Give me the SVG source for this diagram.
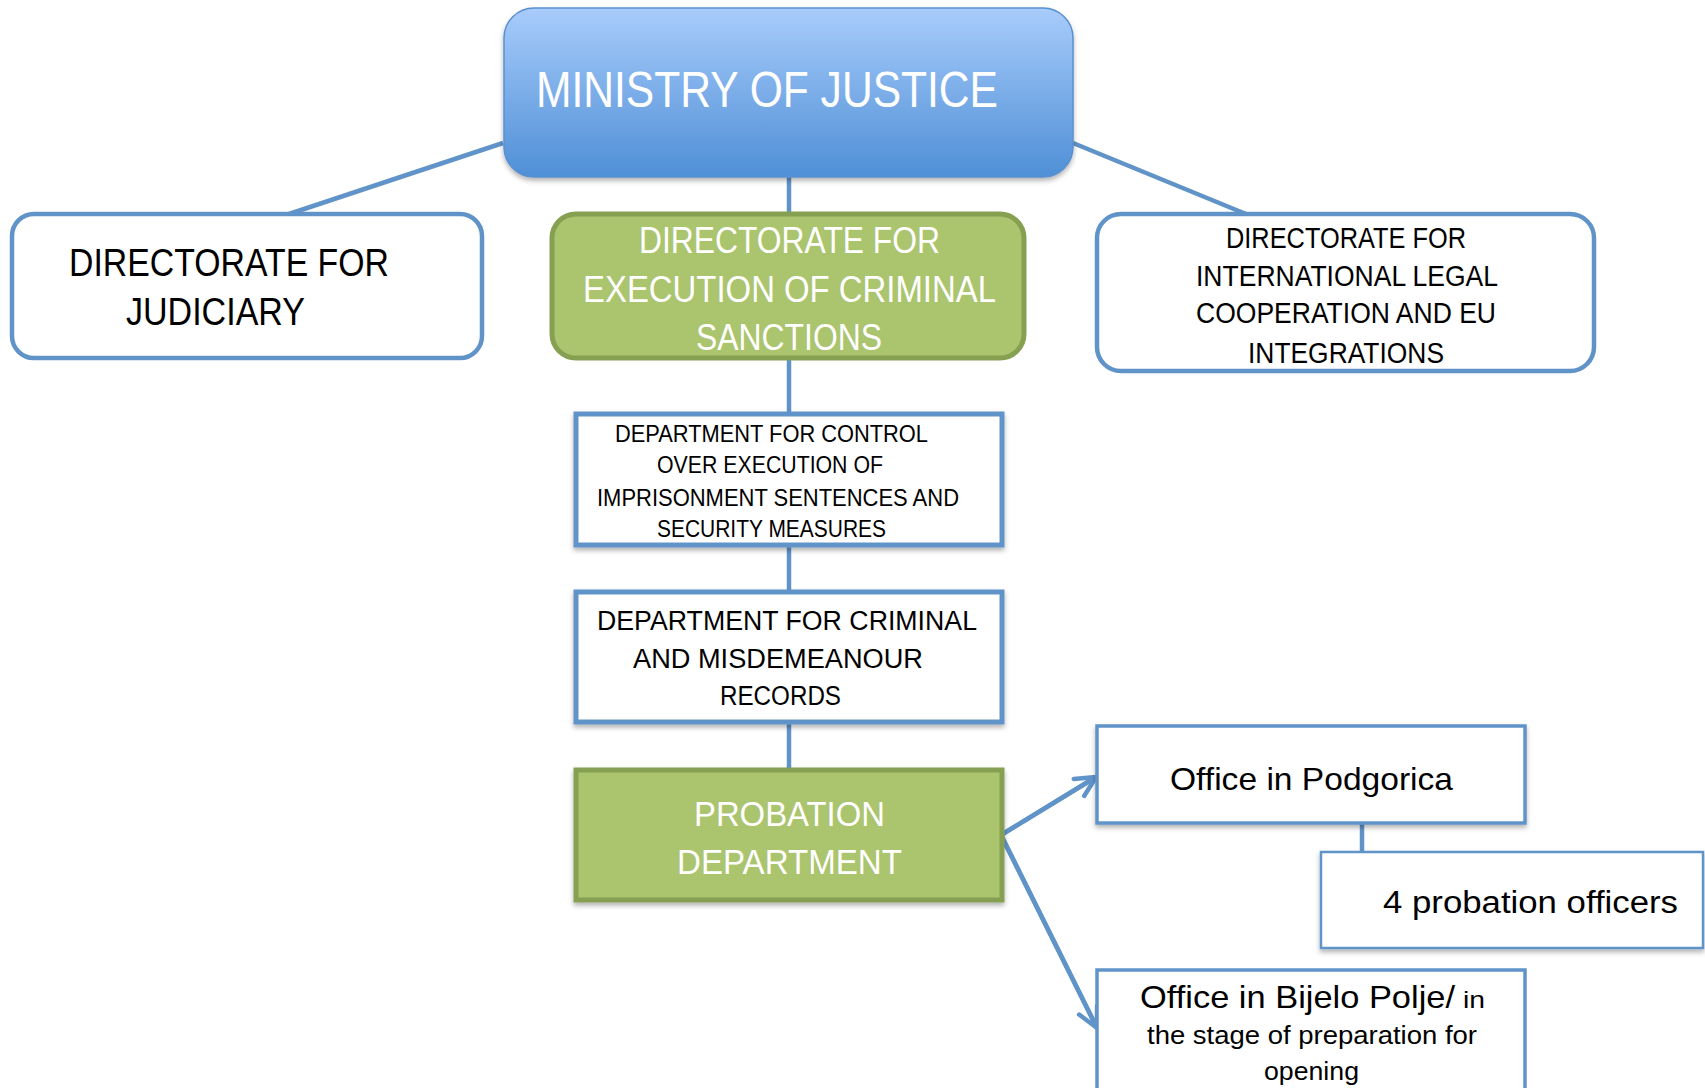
<svg xmlns="http://www.w3.org/2000/svg" width="1705" height="1088" viewBox="0 0 1705 1088">
<style>
text{font-family:"Liberation Sans",Arial,sans-serif;}
.dk{fill:#000;}
.wt{fill:#fff;}
.box{fill:#fff;stroke:#6094c9;}
.grn{fill:#abc46e;stroke:#86a052;stroke-width:5;}
.con{stroke:#6094c9;stroke-width:4.5;fill:none;}
</style>
<defs>
<linearGradient id="gMin" x1="0" y1="0" x2="0" y2="1">
<stop offset="0" stop-color="#a8ccfb"/>
<stop offset="1" stop-color="#4f8fd6"/>
</linearGradient>
<filter id="sh" x="-5%" y="-10%" width="110%" height="125%">
<feDropShadow dx="0" dy="3" stdDeviation="2.5" flood-color="#000" flood-opacity="0.3"/>
</filter>
<marker id="arr" markerUnits="userSpaceOnUse" viewBox="-26 -15 30 30" markerWidth="30" markerHeight="30" refX="0" refY="0" orient="auto">
<path d="M-20,-10 L0,0 L-20,10" fill="none" stroke="#6094c9" stroke-width="4.5" stroke-linecap="round" stroke-linejoin="round"/>
</marker>
</defs>
<g id="connectors">
<line class="con" x1="503" y1="143" x2="289" y2="214"/>
<line class="con" x1="1073" y1="143" x2="1246" y2="214"/>
<line class="con" x1="789" y1="177" x2="789" y2="214"/>
<line class="con" x1="789" y1="358" x2="789" y2="413"/>
<line class="con" x1="789" y1="545" x2="789" y2="592"/>
<line class="con" x1="789" y1="723" x2="789" y2="770"/>
<line class="con" x1="1362" y1="823" x2="1362" y2="852"/>
<polyline class="con" points="1096,777 1001,835 1097,1028" stroke-linejoin="miter" fill="none"/>
<line class="con" x1="1001" y1="835" x2="1096" y2="777" marker-end="url(#arr)"/>
<line class="con" x1="1001" y1="835" x2="1097" y2="1028" marker-end="url(#arr)"/>
</g>
<g id="ministry">
<rect x="504" y="8" width="569" height="169" rx="30" fill="url(#gMin)" stroke="#5a90cf" stroke-width="1.5" filter="url(#sh)"/>
<text class="wt" x="536" y="107" font-size="50" textLength="462" lengthAdjust="spacingAndGlyphs">MINISTRY OF JUSTICE</text>
</g>
<g id="dir-judiciary">
<rect class="box" x="12" y="214" width="470" height="144" rx="22" stroke-width="4.5"/>
<text class="dk" x="69" y="276" font-size="38" textLength="320" lengthAdjust="spacingAndGlyphs">DIRECTORATE FOR</text>
<text class="dk" x="126" y="325" font-size="38" textLength="179" lengthAdjust="spacingAndGlyphs">JUDICIARY</text>
</g>
<g id="dir-execution">
<rect class="grn" x="552" y="214" width="472" height="144" rx="24"/>
<text class="wt" x="639" y="253" font-size="36" textLength="301" lengthAdjust="spacingAndGlyphs">DIRECTORATE FOR</text>
<text class="wt" x="583" y="302" font-size="36" textLength="413" lengthAdjust="spacingAndGlyphs">EXECUTION OF CRIMINAL</text>
<text class="wt" x="696" y="350" font-size="36" textLength="186" lengthAdjust="spacingAndGlyphs">SANCTIONS</text>
</g>
<g id="dir-international">
<rect class="box" x="1097" y="214" width="497" height="157" rx="24" stroke-width="4.5"/>
<text class="dk" x="1226" y="248" font-size="29" textLength="240" lengthAdjust="spacingAndGlyphs">DIRECTORATE FOR</text>
<text class="dk" x="1196" y="286" font-size="29" textLength="302" lengthAdjust="spacingAndGlyphs">INTERNATIONAL LEGAL</text>
<text class="dk" x="1196" y="323" font-size="29" textLength="300" lengthAdjust="spacingAndGlyphs">COOPERATION AND EU</text>
<text class="dk" x="1248" y="363" font-size="29" textLength="196" lengthAdjust="spacingAndGlyphs">INTEGRATIONS</text>
</g>
<g id="dept-control">
<rect class="box" x="576" y="414" width="426" height="131" stroke-width="5" filter="url(#sh)"/>
<text class="dk" x="615" y="442" font-size="23" textLength="313" lengthAdjust="spacingAndGlyphs">DEPARTMENT FOR CONTROL</text>
<text class="dk" x="657" y="473" font-size="23" textLength="226" lengthAdjust="spacingAndGlyphs">OVER EXECUTION OF</text>
<text class="dk" x="597" y="506" font-size="23" textLength="362" lengthAdjust="spacingAndGlyphs">IMPRISONMENT SENTENCES AND</text>
<text class="dk" x="657" y="537" font-size="23" textLength="229" lengthAdjust="spacingAndGlyphs">SECURITY MEASURES</text>
</g>
<g id="dept-records">
<rect class="box" x="576" y="592" width="426" height="130" stroke-width="5" filter="url(#sh)"/>
<text class="dk" x="597" y="630" font-size="27" textLength="380" lengthAdjust="spacingAndGlyphs">DEPARTMENT FOR CRIMINAL</text>
<text class="dk" x="633" y="668" font-size="27" textLength="290" lengthAdjust="spacingAndGlyphs">AND MISDEMEANOUR</text>
<text class="dk" x="720" y="705" font-size="27" textLength="121" lengthAdjust="spacingAndGlyphs">RECORDS</text>
</g>
<g id="probation">
<rect class="grn" x="576" y="770" width="426" height="130" filter="url(#sh)"/>
<text class="wt" x="694" y="826" font-size="35" textLength="191" lengthAdjust="spacingAndGlyphs">PROBATION</text>
<text class="wt" x="677" y="874" font-size="35" textLength="225" lengthAdjust="spacingAndGlyphs">DEPARTMENT</text>
</g>
<g id="office-podgorica">
<rect class="box" x="1097" y="726" width="428" height="97" stroke-width="3.5" filter="url(#sh)"/>
<text class="dk" x="1170" y="790" font-size="32" textLength="283" lengthAdjust="spacingAndGlyphs">Office in Podgorica</text>
</g>
<g id="probation-officers">
<rect class="box" x="1321" y="852" width="382" height="96" stroke-width="2.5" filter="url(#sh)"/>
<text class="dk" x="1383" y="913" font-size="31" textLength="295" lengthAdjust="spacingAndGlyphs">4 probation officers</text>
</g>
<g id="office-bijelo-polje">
<rect class="box" x="1097" y="970" width="428" height="130" stroke-width="3.5"/>
<text class="dk" x="1140" y="1008" font-size="32" textLength="315" lengthAdjust="spacingAndGlyphs">Office in Bijelo Polje/</text>
<text class="dk" x="1463" y="1008" font-size="24" textLength="22" lengthAdjust="spacingAndGlyphs">in</text>
<text class="dk" x="1147" y="1044" font-size="25" textLength="330" lengthAdjust="spacingAndGlyphs">the stage of preparation for</text>
<text class="dk" x="1264" y="1080" font-size="25" textLength="95" lengthAdjust="spacingAndGlyphs">opening</text>
</g>
</svg>
